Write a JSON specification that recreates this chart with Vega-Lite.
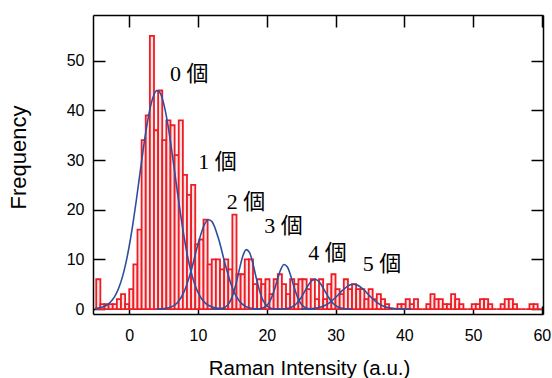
{
  "$schema": "https://vega.github.io/schema/vega-lite/v6.json",
  "width": 450,
  "height": 299,
  "autosize": {"type": "none"},
  "padding": {"left": 93, "top": 15, "right": 9, "bottom": 64},
  "background": "white",
  "config": {
    "view": {"stroke": null},
    "axis": {
      "grid": false,
      "domainColor": "#000000",
      "domainWidth": 1.5,
      "tickColor": "#000000",
      "tickWidth": 1.5,
      "labelFont": "Liberation Sans",
      "labelFontSize": 16,
      "labelColor": "#000000",
      "titleFont": "Liberation Sans",
      "titleFontSize": 20.5,
      "titleFontWeight": "normal",
      "titleColor": "#000000"
    }
  },
  "layer": [
    {
      "data": {"values": [
        {"bin_start": -4.8, "bin_end": -4.2, "count": 6},
        {"bin_start": -4.2, "bin_end": -3.6, "count": 1},
        {"bin_start": -3.6, "bin_end": -3.0, "count": 1},
        {"bin_start": -3.0, "bin_end": -2.4, "count": 1},
        {"bin_start": -2.4, "bin_end": -1.8, "count": 1},
        {"bin_start": -1.8, "bin_end": -1.2, "count": 2},
        {"bin_start": -1.2, "bin_end": -0.6, "count": 3},
        {"bin_start": -0.6, "bin_end": 0.0, "count": 1},
        {"bin_start": 0.0, "bin_end": 0.6, "count": 4},
        {"bin_start": 0.6, "bin_end": 1.2, "count": 9},
        {"bin_start": 1.2, "bin_end": 1.8, "count": 16},
        {"bin_start": 1.8, "bin_end": 2.4, "count": 34},
        {"bin_start": 2.4, "bin_end": 3.0, "count": 39},
        {"bin_start": 3.0, "bin_end": 3.6, "count": 55},
        {"bin_start": 3.6, "bin_end": 4.2, "count": 36},
        {"bin_start": 4.2, "bin_end": 4.8, "count": 44},
        {"bin_start": 4.8, "bin_end": 5.4, "count": 34},
        {"bin_start": 5.4, "bin_end": 6.0, "count": 38},
        {"bin_start": 6.0, "bin_end": 6.6, "count": 37},
        {"bin_start": 6.6, "bin_end": 7.2, "count": 31},
        {"bin_start": 7.2, "bin_end": 7.8, "count": 38},
        {"bin_start": 7.8, "bin_end": 8.4, "count": 27},
        {"bin_start": 8.4, "bin_end": 9.0, "count": 23},
        {"bin_start": 9.0, "bin_end": 9.6, "count": 25},
        {"bin_start": 9.6, "bin_end": 10.2, "count": 13},
        {"bin_start": 10.2, "bin_end": 10.8, "count": 14},
        {"bin_start": 10.8, "bin_end": 11.4, "count": 18},
        {"bin_start": 11.4, "bin_end": 12.0, "count": 9},
        {"bin_start": 12.0, "bin_end": 12.6, "count": 10},
        {"bin_start": 12.6, "bin_end": 13.2, "count": 10},
        {"bin_start": 13.2, "bin_end": 13.8, "count": 8},
        {"bin_start": 13.8, "bin_end": 14.4, "count": 10},
        {"bin_start": 14.4, "bin_end": 15.0, "count": 8},
        {"bin_start": 15.0, "bin_end": 15.6, "count": 19},
        {"bin_start": 15.6, "bin_end": 16.2, "count": 7},
        {"bin_start": 16.2, "bin_end": 16.8, "count": 7},
        {"bin_start": 16.8, "bin_end": 17.4, "count": 10},
        {"bin_start": 17.4, "bin_end": 18.0, "count": 10},
        {"bin_start": 18.0, "bin_end": 18.6, "count": 5},
        {"bin_start": 18.6, "bin_end": 19.2, "count": 6},
        {"bin_start": 19.2, "bin_end": 19.8, "count": 5},
        {"bin_start": 19.8, "bin_end": 20.4, "count": 6},
        {"bin_start": 20.4, "bin_end": 21.0, "count": 3},
        {"bin_start": 21.0, "bin_end": 21.6, "count": 6},
        {"bin_start": 21.6, "bin_end": 22.2, "count": 7},
        {"bin_start": 22.2, "bin_end": 22.8, "count": 5},
        {"bin_start": 22.8, "bin_end": 23.4, "count": 3},
        {"bin_start": 23.4, "bin_end": 24.0, "count": 6},
        {"bin_start": 24.0, "bin_end": 24.6, "count": 5},
        {"bin_start": 24.6, "bin_end": 25.2, "count": 6},
        {"bin_start": 25.2, "bin_end": 25.8, "count": 6},
        {"bin_start": 25.8, "bin_end": 26.4, "count": 4},
        {"bin_start": 26.4, "bin_end": 27.0, "count": 6},
        {"bin_start": 27.0, "bin_end": 27.6, "count": 2},
        {"bin_start": 27.6, "bin_end": 28.2, "count": 6},
        {"bin_start": 28.2, "bin_end": 28.8, "count": 2},
        {"bin_start": 28.8, "bin_end": 29.4, "count": 5},
        {"bin_start": 29.4, "bin_end": 30.0, "count": 7},
        {"bin_start": 30.0, "bin_end": 30.6, "count": 4},
        {"bin_start": 30.6, "bin_end": 31.2, "count": 3},
        {"bin_start": 31.2, "bin_end": 31.8, "count": 6},
        {"bin_start": 31.8, "bin_end": 32.4, "count": 4},
        {"bin_start": 32.4, "bin_end": 33.0, "count": 5},
        {"bin_start": 33.0, "bin_end": 33.6, "count": 4},
        {"bin_start": 33.6, "bin_end": 34.2, "count": 4},
        {"bin_start": 34.2, "bin_end": 34.8, "count": 2},
        {"bin_start": 34.8, "bin_end": 35.4, "count": 4},
        {"bin_start": 35.4, "bin_end": 36.0, "count": 2},
        {"bin_start": 36.0, "bin_end": 36.6, "count": 3},
        {"bin_start": 36.6, "bin_end": 37.2, "count": 2},
        {"bin_start": 37.2, "bin_end": 37.8, "count": 1},
        {"bin_start": 37.8, "bin_end": 38.4, "count": 0},
        {"bin_start": 38.4, "bin_end": 39.0, "count": 0},
        {"bin_start": 39.0, "bin_end": 39.6, "count": 1},
        {"bin_start": 39.6, "bin_end": 40.2, "count": 1},
        {"bin_start": 40.2, "bin_end": 40.8, "count": 2},
        {"bin_start": 40.8, "bin_end": 41.4, "count": 1},
        {"bin_start": 41.4, "bin_end": 42.0, "count": 2},
        {"bin_start": 42.0, "bin_end": 42.6, "count": 0},
        {"bin_start": 42.6, "bin_end": 43.2, "count": 0},
        {"bin_start": 43.2, "bin_end": 43.8, "count": 1},
        {"bin_start": 43.8, "bin_end": 44.4, "count": 3},
        {"bin_start": 44.4, "bin_end": 45.0, "count": 2},
        {"bin_start": 45.0, "bin_end": 45.6, "count": 2},
        {"bin_start": 45.6, "bin_end": 46.2, "count": 1},
        {"bin_start": 46.2, "bin_end": 46.8, "count": 1},
        {"bin_start": 46.8, "bin_end": 47.4, "count": 3},
        {"bin_start": 47.4, "bin_end": 48.0, "count": 2},
        {"bin_start": 48.0, "bin_end": 48.6, "count": 1},
        {"bin_start": 48.6, "bin_end": 49.2, "count": 0},
        {"bin_start": 49.2, "bin_end": 49.8, "count": 0},
        {"bin_start": 49.8, "bin_end": 50.4, "count": 1},
        {"bin_start": 50.4, "bin_end": 51.0, "count": 1},
        {"bin_start": 51.0, "bin_end": 51.6, "count": 2},
        {"bin_start": 51.6, "bin_end": 52.2, "count": 2},
        {"bin_start": 52.2, "bin_end": 52.8, "count": 1},
        {"bin_start": 52.8, "bin_end": 53.4, "count": 0},
        {"bin_start": 53.4, "bin_end": 54.0, "count": 0},
        {"bin_start": 54.0, "bin_end": 54.6, "count": 1},
        {"bin_start": 54.6, "bin_end": 55.2, "count": 2},
        {"bin_start": 55.2, "bin_end": 55.8, "count": 2},
        {"bin_start": 55.8, "bin_end": 56.4, "count": 1},
        {"bin_start": 56.4, "bin_end": 57.0, "count": 0},
        {"bin_start": 57.0, "bin_end": 57.6, "count": 0},
        {"bin_start": 57.6, "bin_end": 58.2, "count": 0},
        {"bin_start": 58.2, "bin_end": 58.8, "count": 1},
        {"bin_start": 58.8, "bin_end": 59.4, "count": 1},
        {"bin_start": 59.4, "bin_end": 60.0, "count": 0}
      ]},
      "mark": {"type": "rect", "fill": "#ffe4e4", "stroke": "#ee1c25", "strokeWidth": 1.8, "clip": true},
      "encoding": {
        "x": {
          "field": "bin_start", "type": "quantitative",
          "scale": {"domain": [-5.27, 60.17], "nice": false, "zero": false},
          "axis": {"orient": "bottom", "values": [0, 10, 20, 30, 40, 50, 60], "tickSize": -8, "labelPadding": 21, "title": "Raman Intensity (a.u.)", "titleX": 216, "titleY": 60, "titleBaseline": "alphabetic", "titleAnchor": null, "titleAlign": "center"}
        },
        "x2": {"field": "bin_end"},
        "y": {
          "field": "count", "type": "quantitative",
          "scale": {"domain": [-1, 59.2], "nice": false, "zero": false},
          "axis": {"orient": "left", "values": [0, 10, 20, 30, 40, 50], "tickSize": -12, "labelPadding": 21, "title": "Frequency", "titleFontSize": 22, "titleX": -68, "titleY": 142, "titleAngle": 270, "titleBaseline": "alphabetic", "titleAlign": "center"}
        },
        "y2": {"datum": 0}
      }
    },
    {
      "data": {"values": [
        {"peak": "0", "x": -5, "y": 0.10}, {"peak": "0", "x": -4.5, "y": 0.19}, {"peak": "0", "x": -4, "y": 0.34}, {"peak": "0", "x": -3.5, "y": 0.61},
        {"peak": "0", "x": -3, "y": 1.06}, {"peak": "0", "x": -2.5, "y": 1.76}, {"peak": "0", "x": -2, "y": 2.81}, {"peak": "0", "x": -1.5, "y": 4.33},
        {"peak": "0", "x": -1, "y": 6.42}, {"peak": "0", "x": -0.5, "y": 9.20}, {"peak": "0", "x": 0, "y": 12.69}, {"peak": "0", "x": 0.5, "y": 16.86},
        {"peak": "0", "x": 1, "y": 21.6}, {"peak": "0", "x": 1.5, "y": 26.7}, {"peak": "0", "x": 2, "y": 31.8}, {"peak": "0", "x": 2.5, "y": 36.4},
        {"peak": "0", "x": 3, "y": 40.2}, {"peak": "0", "x": 3.5, "y": 42.8}, {"peak": "0", "x": 4, "y": 43.97}, {"peak": "0", "x": 4.5, "y": 43.5},
        {"peak": "0", "x": 5, "y": 41.4}, {"peak": "0", "x": 5.5, "y": 38.1}, {"peak": "0", "x": 6, "y": 33.7}, {"peak": "0", "x": 6.5, "y": 28.7},
        {"peak": "0", "x": 7, "y": 23.6}, {"peak": "0", "x": 7.5, "y": 18.7}, {"peak": "0", "x": 8, "y": 14.3}, {"peak": "0", "x": 8.5, "y": 10.5},
        {"peak": "0", "x": 9, "y": 7.44}, {"peak": "0", "x": 9.5, "y": 5.09}, {"peak": "0", "x": 10, "y": 3.35}, {"peak": "0", "x": 10.5, "y": 2.13},
        {"peak": "0", "x": 11, "y": 1.30}, {"peak": "0", "x": 11.5, "y": 0.77}, {"peak": "0", "x": 12, "y": 0.44}, {"peak": "0", "x": 12.5, "y": 0.24},
        {"peak": "0", "x": 13, "y": 0.13}, {"peak": "0", "x": 13.5, "y": 0.07}, {"peak": "0", "x": 14, "y": 0.03},
        {"peak": "1", "x": 4, "y": 0.01}, {"peak": "1", "x": 5, "y": 0.08}, {"peak": "1", "x": 6, "y": 0.36}, {"peak": "1", "x": 7, "y": 1.28},
        {"peak": "1", "x": 8, "y": 3.56}, {"peak": "1", "x": 9, "y": 7.73}, {"peak": "1", "x": 10, "y": 13.07}, {"peak": "1", "x": 11, "y": 17.21},
        {"peak": "1", "x": 11.5, "y": 17.98}, {"peak": "1", "x": 12, "y": 17.64}, {"peak": "1", "x": 13, "y": 14.09}, {"peak": "1", "x": 14, "y": 8.76},
        {"peak": "1", "x": 15, "y": 4.24}, {"peak": "1", "x": 16, "y": 1.60}, {"peak": "1", "x": 17, "y": 0.47}, {"peak": "1", "x": 18, "y": 0.11},
        {"peak": "1", "x": 19, "y": 0.02},
        {"peak": "2", "x": 12, "y": 0.0}, {"peak": "2", "x": 12.5, "y": 0.01}, {"peak": "2", "x": 13, "y": 0.035}, {"peak": "2", "x": 13.5, "y": 0.13},
        {"peak": "2", "x": 14, "y": 0.43}, {"peak": "2", "x": 14.5, "y": 1.15}, {"peak": "2", "x": 15, "y": 2.60}, {"peak": "2", "x": 15.5, "y": 4.93},
        {"peak": "2", "x": 16, "y": 7.88}, {"peak": "2", "x": 16.5, "y": 10.59}, {"peak": "2", "x": 17, "y": 11.96}, {"peak": "2", "x": 17.5, "y": 11.35},
        {"peak": "2", "x": 18, "y": 9.06}, {"peak": "2", "x": 18.5, "y": 6.07}, {"peak": "2", "x": 19, "y": 3.43}, {"peak": "2", "x": 19.5, "y": 1.62},
        {"peak": "2", "x": 20, "y": 0.65}, {"peak": "2", "x": 20.5, "y": 0.22}, {"peak": "2", "x": 21, "y": 0.06}, {"peak": "2", "x": 21.5, "y": 0.01},
        {"peak": "2", "x": 22, "y": 0.0},
        {"peak": "3", "x": 18, "y": 0.0}, {"peak": "3", "x": 18.5, "y": 0.016}, {"peak": "3", "x": 19, "y": 0.067}, {"peak": "3", "x": 19.5, "y": 0.24},
        {"peak": "3", "x": 20, "y": 0.70}, {"peak": "3", "x": 20.5, "y": 1.70}, {"peak": "3", "x": 21, "y": 3.42}, {"peak": "3", "x": 21.5, "y": 5.69},
        {"peak": "3", "x": 22, "y": 7.85}, {"peak": "3", "x": 22.5, "y": 8.97}, {"peak": "3", "x": 23, "y": 8.47}, {"peak": "3", "x": 23.5, "y": 6.62},
        {"peak": "3", "x": 24, "y": 4.29}, {"peak": "3", "x": 24.5, "y": 2.30}, {"peak": "3", "x": 25, "y": 1.02}, {"peak": "3", "x": 25.5, "y": 0.37},
        {"peak": "3", "x": 26, "y": 0.11}, {"peak": "3", "x": 26.5, "y": 0.03}, {"peak": "3", "x": 27, "y": 0.01},
        {"peak": "4", "x": 21.5, "y": 0.005}, {"peak": "4", "x": 22, "y": 0.016}, {"peak": "4", "x": 22.5, "y": 0.049}, {"peak": "4", "x": 23, "y": 0.13},
        {"peak": "4", "x": 23.5, "y": 0.33}, {"peak": "4", "x": 24, "y": 0.71}, {"peak": "4", "x": 24.5, "y": 1.36}, {"peak": "4", "x": 25, "y": 2.32},
        {"peak": "4", "x": 25.5, "y": 3.51}, {"peak": "4", "x": 26, "y": 4.73}, {"peak": "4", "x": 26.5, "y": 5.65}, {"peak": "4", "x": 27, "y": 6.0},
        {"peak": "4", "x": 27.5, "y": 5.65}, {"peak": "4", "x": 28, "y": 4.73}, {"peak": "4", "x": 28.5, "y": 3.51}, {"peak": "4", "x": 29, "y": 2.32},
        {"peak": "4", "x": 29.5, "y": 1.36}, {"peak": "4", "x": 30, "y": 0.71}, {"peak": "4", "x": 30.5, "y": 0.33}, {"peak": "4", "x": 31, "y": 0.13},
        {"peak": "4", "x": 31.5, "y": 0.049}, {"peak": "4", "x": 32, "y": 0.016}, {"peak": "4", "x": 32.5, "y": 0.005},
        {"peak": "5", "x": 25, "y": 0.007}, {"peak": "5", "x": 26, "y": 0.036}, {"peak": "5", "x": 27, "y": 0.14}, {"peak": "5", "x": 28, "y": 0.45},
        {"peak": "5", "x": 29, "y": 1.15}, {"peak": "5", "x": 30, "y": 2.32}, {"peak": "5", "x": 31, "y": 3.74}, {"peak": "5", "x": 32, "y": 4.80},
        {"peak": "5", "x": 32.5, "y": 4.99}, {"peak": "5", "x": 33, "y": 4.91}, {"peak": "5", "x": 34, "y": 4.00}, {"peak": "5", "x": 35, "y": 2.60},
        {"peak": "5", "x": 36, "y": 1.35}, {"peak": "5", "x": 37, "y": 0.56}, {"peak": "5", "x": 38, "y": 0.18}, {"peak": "5", "x": 39, "y": 0.05},
        {"peak": "5", "x": 40, "y": 0.01}, {"peak": "5", "x": 41, "y": 0.0}
      ]},
      "mark": {"type": "line", "color": "#2d4f9e", "strokeWidth": 1.6, "interpolate": "monotone", "clip": true},
      "encoding": {
        "x": {
          "field": "x", "type": "quantitative",
          "scale": {"domain": [-5.27, 60.17], "nice": false, "zero": false},
          "axis": {"orient": "top", "values": [0, 10, 20, 30, 40, 50, 60], "labels": false, "title": null, "tickSize": -12}
        },
        "y": {
          "field": "y", "type": "quantitative",
          "scale": {"domain": [-1, 59.2], "nice": false, "zero": false},
          "axis": {"orient": "right", "values": [0, 10, 20, 30, 40, 50], "labels": false, "title": null, "tickSize": -12}
        },
        "detail": {"field": "peak", "type": "nominal"}
      }
    },
    {
      "data": {"values": [
        {"label": "0 個", "x": 8.71, "y": 47.4},
        {"label": "1 個", "x": 12.85, "y": 29.7},
        {"label": "2 個", "x": 16.99, "y": 21.5},
        {"label": "3 個", "x": 22.44, "y": 16.7},
        {"label": "4 個", "x": 28.83, "y": 11.3},
        {"label": "5 個", "x": 36.74, "y": 9.0}
      ]},
      "mark": {"type": "text", "font": "Liberation Serif, Noto Sans CJK JP", "fontSize": 22, "align": "center", "baseline": "middle", "color": "#000000"},
      "encoding": {
        "x": {"field": "x", "type": "quantitative", "scale": {"domain": [-5.27, 60.17], "nice": false, "zero": false}, "axis": null},
        "y": {"field": "y", "type": "quantitative", "scale": {"domain": [-1, 59.2], "nice": false, "zero": false}, "axis": null},
        "text": {"field": "label", "type": "nominal"}
      }
    }
  ],
  "resolve": {"axis": {"x": "independent", "y": "independent"}}
}
